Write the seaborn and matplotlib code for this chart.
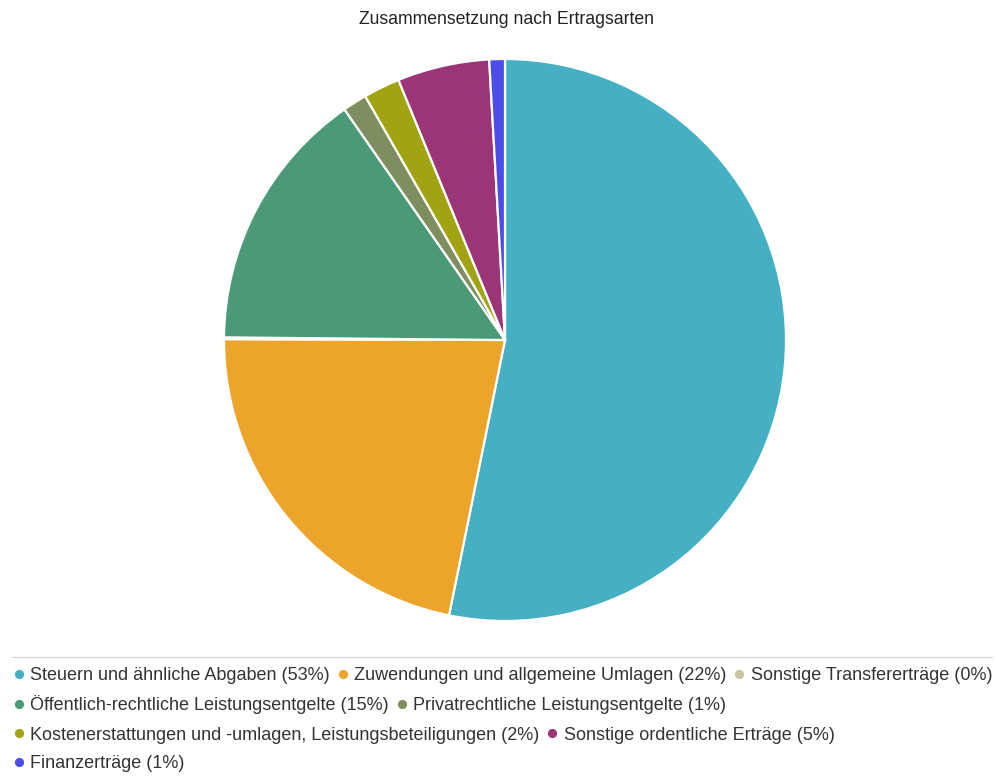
import matplotlib
matplotlib.use("Agg")
import matplotlib.pyplot as plt
from matplotlib.lines import Line2D
import seaborn as sns

sns.set_theme(style="white")
plt.rcParams['font.family'] = ['Liberation Sans', 'DejaVu Sans']

categories = [
    "Steuern und ähnliche Abgaben",
    "Zuwendungen und allgemeine Umlagen",
    "Sonstige Transfererträge",
    "Öffentlich-rechtliche Leistungsentgelte",
    "Privatrechtliche Leistungsentgelte",
    "Kostenerstattungen und -umlagen, Leistungsbeteiligungen",
    "Sonstige ordentliche Erträge",
    "Finanzerträge",
]
shares = [53.3, 21.9, 0.1, 15.2, 1.4, 2.1, 5.3, 0.9]
colors = ["#45B0C4", "#EDA42A", "#C8C49C", "#4A9A78", "#7E8E5E",
          "#A2A313", "#9C3478", "#4B4DE8"]
legend_rows = [[0, 1, 2], [3, 4], [5, 6], [7]]

fig = plt.figure(figsize=(9.96, 7.78), dpi=100)
W, H = 996, 778
cx, cy, r = 505, 340, 281
ax = fig.add_axes([(cx - r) / W, 1 - (cy + r) / H, 2 * r / W, 2 * r / H])
wedges, _ = ax.pie(shares, colors=colors, startangle=90, counterclock=False,
                   radius=1.0,
                   wedgeprops=dict(edgecolor="white", linewidth=1.6))
ax.set_xlim(-1, 1)
ax.set_ylim(-1, 1)
ax.set_aspect("equal")
ax.axis("off")

fig.text(506 / W, 1 - 19 / H, "Zusammensetzung nach Ertragsarten",
         ha="center", va="center", fontsize=12.7, color="#222222")

# thin rule above the legend
fig.add_artist(Line2D([12 / W, 992 / W], [1 - 657 / H, 1 - 657 / H],
                      color="#D0D0D0", linewidth=0.8, transform=fig.transFigure))

row_y = [676, 705, 735, 764]
for row, y in zip(legend_rows, row_y):
    handles = [Line2D([], [], marker="o", linestyle="", markersize=5.6,
                      markerfacecolor=colors[i], markeredgecolor=colors[i])
               for i in row]
    labels = [f"{categories[i]} ({round(shares[i]):d}%)" for i in row]
    leg = fig.legend(handles, labels, loc="center left",
                     bbox_to_anchor=(14 / W, 1 - y / H), ncol=len(row),
                     frameon=False, fontsize=13, handlelength=0.5,
                     handletextpad=0.4, columnspacing=0.45, borderpad=0,
                     borderaxespad=0)
    for t in leg.get_texts():
        t.set_color("#333333")

fig.savefig("out.png", dpi=100, facecolor="white")
